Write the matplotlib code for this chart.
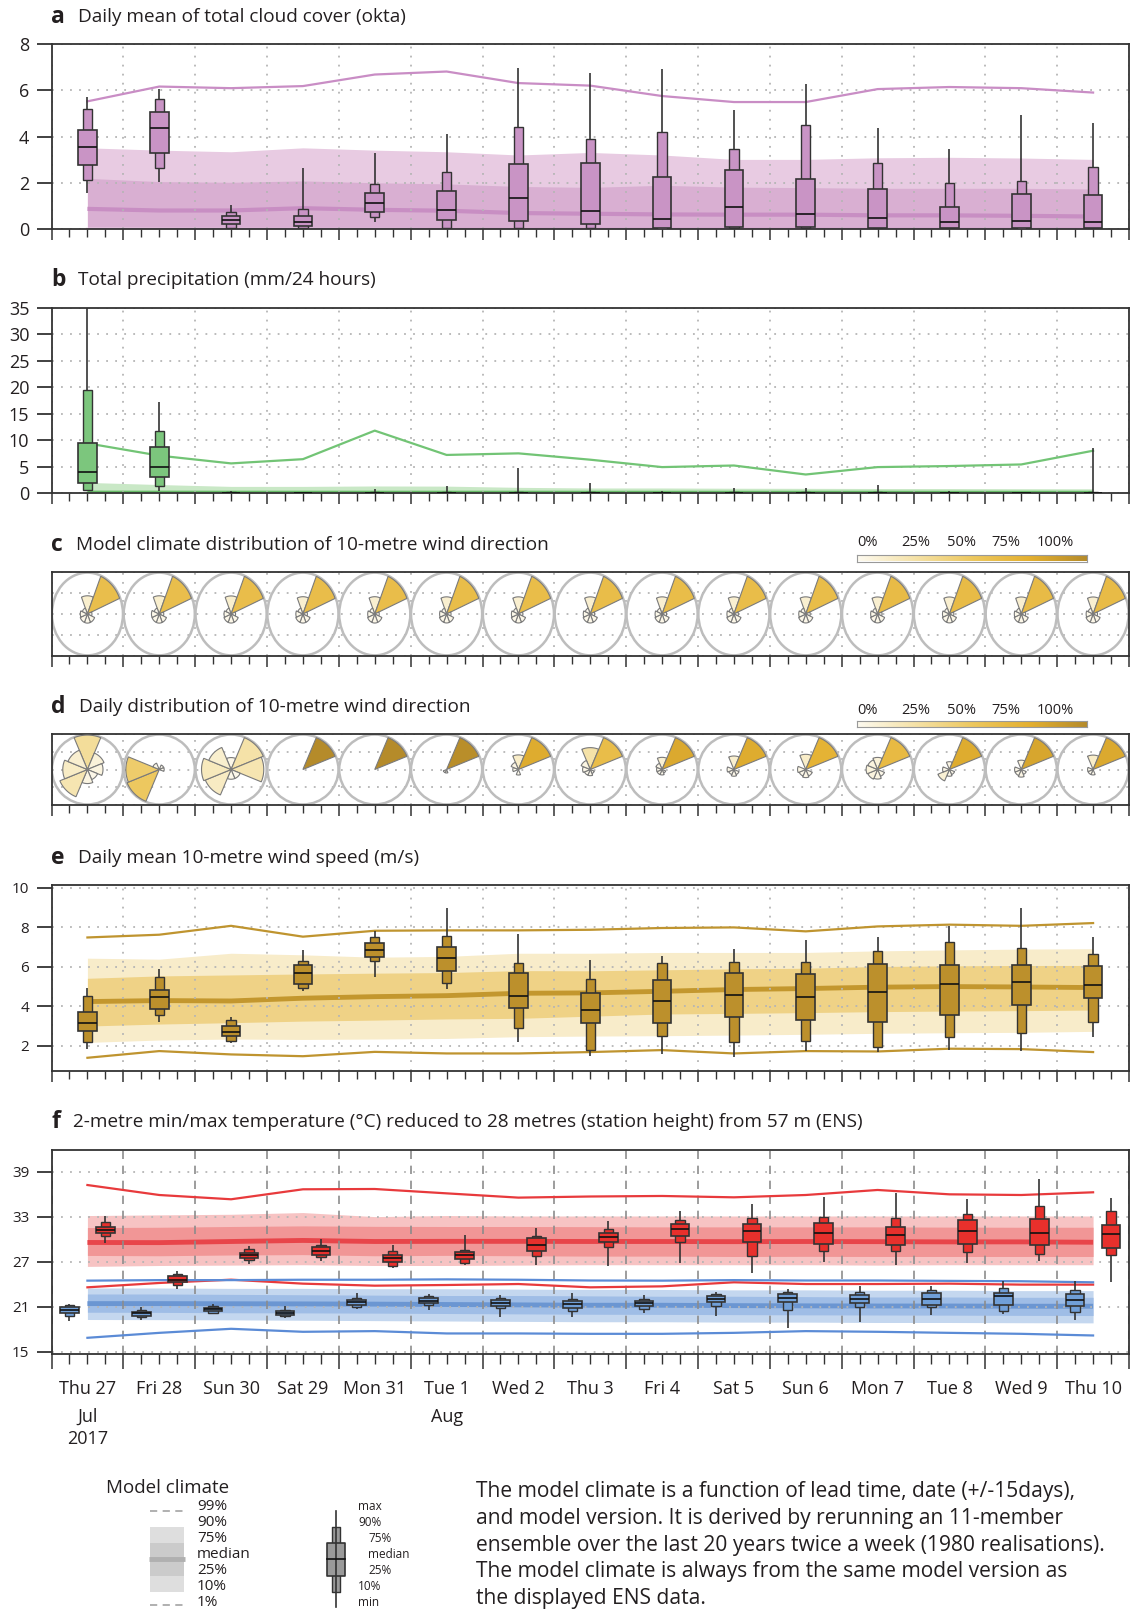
import numpy as np
import matplotlib
matplotlib.use('Agg')
import matplotlib.pyplot as plt
from matplotlib.colors import LinearSegmentedColormap
from matplotlib.patches import Ellipse
import matplotlib.transforms as mtransforms

plt.rcParams['font.family'] = ['Open Sans', 'DejaVu Sans']
plt.rcParams['text.color'] = '#231f20'
plt.rcParams['axes.edgecolor'] = '#333333'
plt.rcParams['xtick.color'] = '#333333'
plt.rcParams['ytick.color'] = '#333333'
plt.rcParams['xtick.labelcolor'] = '#231f20'
plt.rcParams['ytick.labelcolor'] = '#231f20'

# ---------------- data ----------------
days = ['Thu 27', 'Fri 28', 'Sun 30', 'Sat 29', 'Mon 31', 'Tue 1', 'Wed 2', 'Thu 3',
        'Fri 4', 'Sat 5', 'Sun 6', 'Mon 7', 'Tue 8', 'Wed 9', 'Thu 10']
month_labels = ['Jul\n2017', 'Aug']
month_days = [0, 5]

# (a) total cloud cover, ENS distribution
cloud_min = [1.55, 2.05, 0.0, 0.0, 0.29, 0.0, 0.0, 0.0, 0.0, 0.0, 0.0, 0.0, 0.0, 0.0, 0.0]
cloud_p10 = [2.12, 2.62, 0.03, 0.03, 0.52, 0.06, 0.05, 0.03, 0.0, 0.03, 0.03, 0.03, 0.03, 0.0, 0.03]
cloud_p25 = [2.77, 3.30, 0.23, 0.14, 0.72, 0.40, 0.33, 0.23, 0.03, 0.10, 0.10, 0.06, 0.06, 0.03, 0.06]
cloud_med = [3.56, 4.37, 0.37, 0.30, 1.12, 0.83, 1.32, 0.76, 0.43, 0.93, 0.65, 0.47, 0.29, 0.33, 0.30]
cloud_p75 = [4.30, 5.06, 0.55, 0.55, 1.55, 1.66, 2.81, 2.84, 2.27, 2.55, 2.16, 1.73, 0.96, 1.52, 1.48]
cloud_p90 = [5.20, 5.63, 0.73, 0.86, 1.94, 2.48, 4.39, 3.91, 4.20, 3.44, 4.49, 2.87, 2.00, 2.08, 2.67]
cloud_max = [5.71, 6.06, 1.05, 2.62, 3.27, 4.09, 6.95, 6.75, 6.92, 5.16, 6.28, 4.37, 3.44, 4.95, 4.59]
# (a) model climate
cloud_c01 = [0.0, 0.0, 0.0, 0.0, 0.0, 0.0, 0.0, 0.0, 0.0, 0.0, 0.0, 0.0, 0.0, 0.0, 0.0]
cloud_c10 = [0.0, 0.0, 0.0, 0.0, 0.0, 0.0, 0.0, 0.0, 0.0, 0.0, 0.0, 0.0, 0.0, 0.0, 0.0]
cloud_c25 = [0.10, 0.09, 0.08, 0.08, 0.08, 0.07, 0.07, 0.06, 0.06, 0.06, 0.05, 0.05, 0.05, 0.05, 0.05]
cloud_c50 = [0.87, 0.80, 0.80, 0.90, 0.83, 0.79, 0.69, 0.66, 0.63, 0.62, 0.62, 0.59, 0.59, 0.57, 0.54]
cloud_c75 = [2.19, 2.05, 2.02, 2.08, 2.00, 1.95, 1.84, 1.80, 1.89, 1.81, 1.79, 1.76, 1.76, 1.76, 1.73]
cloud_c90 = [3.51, 3.41, 3.34, 3.51, 3.41, 3.34, 3.20, 3.31, 3.20, 3.01, 3.01, 3.08, 3.10, 3.07, 3.01]
cloud_c99 = [5.52, 6.16, 6.09, 6.18, 6.68, 6.81, 6.31, 6.20, 5.75, 5.49, 5.49, 6.05, 6.14, 6.09, 5.90]

# (b) precipitation
prec_min = [0.4, 0.4, 0, 0, 0, 0, 0, 0, 0, 0, 0, 0, 0, 0, 0]
prec_p10 = [0.57, 1.26, 0, 0, 0, 0, 0, 0, 0, 0, 0, 0, 0, 0, 0]
prec_p25 = [1.9, 3.1, 0, 0, 0, 0, 0, 0, 0, 0, 0, 0, 0, 0, 0]
prec_med = [4.04, 5.0, 0, 0, 0, 0, 0, 0, 0, 0, 0, 0, 0, 0, 0]
prec_p75 = [9.54, 8.65, 0.05, 0, 0.05, 0.05, 0, 0, 0, 0, 0, 0, 0, 0, 0]
prec_p90 = [19.4, 11.7, 0.15, 0.05, 0.2, 0.2, 0.1, 0.1, 0.05, 0.1, 0.1, 0.1, 0.05, 0.05, 0.1]
prec_max = [35.0, 17.2, 0.4, 0.1, 0.8, 1.4, 4.8, 1.8, 0.3, 0.9, 1.0, 1.6, 0.4, 0.2, 8.5]
prec_c01 = [0, 0, 0, 0, 0, 0, 0, 0, 0, 0, 0, 0, 0, 0, 0]
prec_c10 = [0, 0, 0, 0, 0, 0, 0, 0, 0, 0, 0, 0, 0, 0, 0]
prec_c25 = [0, 0, 0, 0, 0, 0, 0, 0, 0, 0, 0, 0, 0, 0, 0]
prec_c50 = [0.05, 0.05, 0.04, 0.04, 0.04, 0.04, 0.04, 0.03, 0.03, 0.03, 0.03, 0.03, 0.03, 0.03, 0.03]
prec_c75 = [0.50, 0.45, 0.40, 0.40, 0.42, 0.40, 0.38, 0.36, 0.35, 0.34, 0.33, 0.32, 0.32, 0.31, 0.30]
prec_c90 = [2.0, 1.6, 1.25, 1.25, 1.33, 1.3, 1.07, 0.95, 0.95, 0.9, 0.88, 0.85, 0.85, 0.82, 0.8]
prec_c99 = [9.4, 7.07, 5.6, 6.4, 11.8, 7.2, 7.5, 6.3, 4.9, 5.2, 3.5, 4.9, 5.1, 5.4, 8.0]

# wind direction sectors: N, NE, E, SE, S, SW, W, NW (fractions)
clim_dir = [
    [0.12, 0.60, 0.01, 0.03, 0.03, 0.03, 0.025, 0.015],
    [0.12, 0.60, 0.01, 0.03, 0.03, 0.03, 0.03, 0.015],
    [0.12, 0.61, 0.01, 0.03, 0.03, 0.03, 0.025, 0.015],
    [0.11, 0.61, 0.01, 0.03, 0.03, 0.03, 0.025, 0.015],
    [0.11, 0.61, 0.01, 0.03, 0.03, 0.03, 0.025, 0.015],
    [0.11, 0.62, 0.01, 0.03, 0.03, 0.03, 0.025, 0.015],
    [0.11, 0.62, 0.01, 0.03, 0.03, 0.03, 0.025, 0.015],
    [0.11, 0.62, 0.01, 0.03, 0.03, 0.03, 0.025, 0.015],
    [0.11, 0.62, 0.01, 0.03, 0.03, 0.03, 0.025, 0.015],
    [0.11, 0.62, 0.01, 0.03, 0.03, 0.03, 0.025, 0.015],
    [0.11, 0.62, 0.01, 0.03, 0.03, 0.03, 0.025, 0.015],
    [0.11, 0.63, 0.01, 0.03, 0.03, 0.03, 0.025, 0.015],
    [0.11, 0.63, 0.01, 0.03, 0.03, 0.03, 0.025, 0.015],
    [0.11, 0.63, 0.01, 0.03, 0.03, 0.03, 0.025, 0.015],
    [0.11, 0.63, 0.01, 0.03, 0.03, 0.03, 0.025, 0.015],
]
ens_dir = [
    [0.30, 0.08, 0.06, 0.03, 0.05, 0.22, 0.15, 0.11],
    [0.0, 0.01, 0.01, 0.0, 0.0, 0.50, 0.46, 0.02],
    [0.03, 0.25, 0.22, 0.02, 0.02, 0.16, 0.18, 0.12],
    [0.0, 1.0, 0.0, 0.0, 0.0, 0.0, 0.0, 0.0],
    [0.0, 1.0, 0.0, 0.0, 0.0, 0.0, 0.0, 0.0],
    [0.0, 0.98, 0.0, 0.0, 0.01, 0.01, 0.0, 0.0],
    [0.14, 0.78, 0.0, 0.0, 0.02, 0.0, 0.02, 0.04],
    [0.25, 0.62, 0.0, 0.01, 0.02, 0.02, 0.03, 0.05],
    [0.10, 0.80, 0.0, 0.01, 0.02, 0.02, 0.02, 0.03],
    [0.12, 0.78, 0.0, 0.02, 0.03, 0.02, 0.03, 0.0],
    [0.14, 0.72, 0.0, 0.03, 0.04, 0.03, 0.04, 0.0],
    [0.08, 0.65, 0.0, 0.03, 0.05, 0.06, 0.07, 0.06],
    [0.04, 0.78, 0.0, 0.02, 0.03, 0.10, 0.03, 0.0],
    [0.06, 0.82, 0.0, 0.02, 0.04, 0.03, 0.03, 0.0],
    [0.14, 0.80, 0.0, 0.0, 0.02, 0.02, 0.02, 0.0],
]
pct_labels = ['0%', '25%', '50%', '75%', '100%']

# (e) 10 m wind speed
wind_min = [1.86, 3.22, 2.12, 4.80, 5.51, 4.88, 2.20, 1.47, 1.56, 1.41, 1.73, 1.66, 1.81, 1.75, 2.46]
wind_p10 = [2.20, 3.56, 2.24, 4.95, 6.32, 5.17, 2.88, 1.81, 2.51, 2.19, 2.22, 1.95, 2.42, 2.66, 3.20]
wind_p25 = [2.75, 3.85, 2.49, 5.12, 6.49, 5.80, 3.90, 3.17, 3.17, 3.46, 3.31, 3.22, 3.56, 4.07, 4.41]
wind_med = [3.17, 4.47, 2.71, 5.68, 6.86, 6.44, 4.53, 3.81, 4.29, 4.56, 4.46, 4.71, 5.12, 5.25, 5.08]
wind_p75 = [3.69, 4.83, 3.00, 6.10, 7.20, 7.00, 5.68, 4.66, 5.34, 5.68, 5.63, 6.14, 6.07, 6.10, 6.05]
wind_p90 = [4.54, 5.51, 3.30, 6.30, 7.49, 7.58, 6.19, 5.37, 6.20, 6.25, 6.24, 6.81, 7.24, 6.98, 6.64]
wind_max = [4.95, 5.88, 3.47, 6.86, 7.83, 8.98, 7.66, 6.36, 6.53, 6.90, 7.37, 7.51, 8.08, 8.98, 7.51]
wind_c01 = [1.39, 1.73, 1.56, 1.47, 1.69, 1.61, 1.61, 1.68, 1.78, 1.61, 1.73, 1.71, 1.85, 1.83, 1.68]
wind_c10 = [2.17, 2.29, 2.34, 2.32, 2.34, 2.37, 2.46, 2.49, 2.51, 2.54, 2.58, 2.63, 2.66, 2.68, 2.73]
wind_c25 = [3.00, 3.10, 3.17, 3.25, 3.30, 3.36, 3.39, 3.50, 3.61, 3.64, 3.68, 3.73, 3.76, 3.78, 3.81]
wind_c50 = [4.24, 4.29, 4.27, 4.41, 4.49, 4.54, 4.66, 4.68, 4.76, 4.85, 4.90, 4.97, 5.00, 4.98, 4.95]
wind_c75 = [5.42, 5.54, 5.59, 5.64, 5.68, 5.71, 5.81, 5.80, 5.85, 5.90, 5.93, 6.02, 6.05, 6.07, 6.07]
wind_c90 = [6.44, 6.39, 6.69, 6.61, 6.49, 6.53, 6.69, 6.69, 6.73, 6.73, 6.73, 6.81, 6.86, 6.90, 6.92]
wind_c99 = [7.49, 7.63, 8.08, 7.53, 7.83, 7.85, 7.85, 7.88, 7.97, 8.00, 7.80, 8.05, 8.14, 8.08, 8.22]

# (f) max temperature
tmax_min = [29.48, 23.37, 26.69, 27.05, 26.16, 26.51, 26.60, 26.38, 26.82, 25.50, 26.96, 26.60, 26.82, 27.13, 24.26]
tmax_p10 = [30.37, 23.95, 27.27, 27.62, 26.47, 26.82, 27.80, 28.95, 29.57, 27.71, 28.46, 28.37, 28.29, 28.02, 27.89]
tmax_p25 = [30.90, 24.26, 27.49, 27.93, 26.96, 27.40, 28.37, 29.61, 30.37, 29.66, 29.39, 29.17, 29.35, 29.26, 28.90]
tmax_med = [31.25, 24.60, 27.84, 28.46, 27.44, 27.93, 29.17, 30.32, 31.39, 31.12, 30.90, 30.59, 31.16, 30.81, 30.72]
tmax_p75 = [31.70, 25.05, 28.15, 28.95, 27.84, 28.24, 30.15, 30.81, 32.00, 32.05, 32.14, 31.70, 32.58, 32.71, 31.92]
tmax_p90 = [32.27, 25.36, 28.68, 29.26, 28.46, 28.60, 30.46, 31.34, 32.58, 32.80, 33.02, 32.89, 33.33, 34.44, 33.78]
tmax_max = [33.10, 25.72, 29.04, 30.01, 29.26, 30.59, 31.47, 32.49, 33.78, 34.70, 35.68, 36.12, 35.37, 38.03, 35.46]
# (f) min temperature
tmin_min = [19.16, 19.30, 20.05, 19.47, 20.71, 20.62, 19.65, 19.65, 20.18, 19.74, 18.19, 18.94, 19.96, 20.05, 19.21]
tmin_p10 = [19.74, 19.65, 20.18, 19.74, 20.98, 21.29, 20.80, 20.40, 20.76, 21.07, 20.54, 20.98, 20.93, 20.49, 20.27]
tmin_p25 = [20.18, 19.83, 20.40, 19.96, 21.29, 21.51, 21.07, 20.85, 21.07, 21.60, 21.60, 21.51, 21.29, 21.20, 21.07]
tmin_med = [20.62, 20.14, 20.67, 20.18, 21.64, 21.82, 21.51, 21.42, 21.47, 22.04, 22.13, 22.04, 22.09, 22.40, 21.95]
tmin_p75 = [20.98, 20.36, 20.89, 20.45, 21.95, 22.13, 21.86, 21.82, 21.82, 22.40, 22.71, 22.62, 22.84, 22.84, 22.71]
tmin_p90 = [21.20, 20.62, 21.07, 20.62, 22.17, 22.40, 22.17, 22.04, 22.04, 22.71, 23.02, 22.93, 23.19, 23.50, 23.19]
tmin_max = [21.42, 20.98, 21.42, 21.07, 22.84, 22.70, 22.62, 22.84, 22.62, 22.93, 23.37, 23.81, 23.72, 24.39, 24.39]
# (f) model climate, max temperature
tmax_c01 = [23.59, 24.17, 24.61, 24.08, 23.81, 23.90, 24.03, 23.59, 23.72, 24.26, 24.03, 24.03, 24.08, 23.95, 23.95]
tmax_c10 = [26.38, 26.50, 26.55, 26.60, 26.50, 26.50, 26.55, 26.60, 26.60, 26.60, 26.60, 26.55, 26.60, 26.60, 26.60]
tmax_c25 = [27.84, 27.80, 27.90, 27.95, 27.80, 27.85, 27.80, 27.75, 27.75, 27.70, 27.72, 27.70, 27.70, 27.70, 27.70]
tmax_c50 = [29.57, 29.55, 29.70, 29.84, 29.70, 29.72, 29.72, 29.70, 29.70, 29.68, 29.70, 29.68, 29.65, 29.65, 29.60]
tmax_c75 = [31.56, 31.60, 31.70, 31.78, 31.72, 31.70, 31.70, 31.68, 31.65, 31.65, 31.65, 31.65, 31.62, 31.60, 31.60]
tmax_c90 = [33.16, 33.25, 33.33, 33.56, 33.02, 33.16, 33.10, 33.10, 33.10, 33.10, 33.10, 33.10, 33.10, 33.10, 33.10]
tmax_c99 = [37.23, 35.90, 35.33, 36.66, 36.70, 36.12, 35.55, 35.70, 35.77, 35.59, 35.90, 36.57, 35.99, 35.90, 36.26]
# (f) model climate, min temperature
tmin_c01 = [16.86, 17.52, 18.06, 17.66, 17.75, 17.44, 17.44, 17.39, 17.39, 17.52, 17.75, 17.66, 17.52, 17.39, 17.17]
tmin_c10 = [19.30, 19.28, 19.25, 19.20, 19.15, 19.10, 19.05, 19.00, 19.00, 18.95, 18.95, 18.90, 18.90, 18.87, 18.85]
tmin_c25 = [20.27, 20.25, 20.20, 20.18, 20.15, 20.10, 20.05, 20.00, 19.98, 19.95, 19.92, 19.90, 19.88, 19.85, 19.83]
tmin_c50 = [21.42, 21.42, 21.40, 21.38, 21.35, 21.30, 21.25, 21.20, 21.20, 21.15, 21.12, 21.10, 21.10, 21.07, 21.07]
tmin_c75 = [22.70, 22.70, 22.65, 22.60, 22.55, 22.50, 22.50, 22.45, 22.40, 22.40, 22.35, 22.30, 22.30, 22.26, 22.26]
tmin_c90 = [23.50, 23.50, 23.45, 23.45, 23.40, 23.40, 23.35, 23.30, 23.30, 23.25, 23.25, 23.20, 23.20, 23.15, 23.15]
tmin_c99 = [24.48, 24.55, 24.55, 24.60, 24.60, 24.65, 24.60, 24.50, 24.48, 24.55, 24.50, 24.50, 24.45, 24.40, 24.26]

legend_clim_labels = ['99%', '90%', '75%', 'median', '25%', '10%', '1%']
legend_box_labels = ['max', '90%', '75%', 'median', '25%', '10%', 'min']
paragraph = ['The model climate is a function of lead time, date (+/-15days),',
             'and model version. It is derived by rerunning an 11-member',
             'ensemble over the last 20 years twice a week (1980 realisations).',
             'The model climate is always from the same model version as',
             'the displayed ENS data.']

# ---------------- figure ----------------
W, H = 1132, 1611
fig = plt.figure(figsize=(W / 100, H / 100), dpi=100)
LEFT, RIGHT = 51.5, 1129.0
n = len(days)
centers = np.arange(n) + 0.5


def add_ax(top, bottom):
    return fig.add_axes([LEFT / W, 1 - bottom / H, (RIGHT - LEFT) / W, (bottom - top) / H])


def style_time_axis(ax, ysize=13):
    ax.set_xlim(0, n)
    ax.set_xticks(np.arange(0, n + 1))
    ax.set_xticks(np.arange(0, n + 0.01, 0.25), minor=True)
    ax.tick_params(axis='x', which='major', direction='out', length=8, width=1.1, labelbottom=False)
    ax.tick_params(axis='x', which='minor', direction='out', length=5.5, width=1.0)
    ax.tick_params(axis='y', which='major', direction='out', length=11, width=1.3,
                   labelsize=ysize, pad=5)
    for s in ax.spines.values():
        s.set_linewidth(1.3)
    ax.set_axisbelow('line')


def dotted_grid(ax, xdash=False):
    ax.grid(axis='y', which='major', color='#b5b5b5', linestyle=(0, (1, 4)), linewidth=1.3)
    if xdash:
        ax.grid(axis='x', which='major', color='#8c8c8c', linestyle=(0, (5, 4)), linewidth=1.2)
    else:
        ax.grid(axis='x', which='major', color='#b5b5b5', linestyle=(0, (1, 4)), linewidth=1.3)


def draw_boxes(ax, x, mn, p10, p25, med, p75, p90, mx, color, wn=0.13, ww=0.26):
    x = np.asarray(x, dtype=float)
    ax.vlines(x, mn, mx, color='#333333', lw=1.2, zorder=3)
    ax.bar(x, np.subtract(p90, p10), bottom=p10, width=wn, color=color,
           edgecolor='#333333', linewidth=1.0, zorder=4)
    ax.bar(x, np.subtract(p75, p25), bottom=p25, width=ww, color=color,
           edgecolor='#333333', linewidth=1.2, zorder=5)
    ax.hlines(med, x - ww / 2, x + ww / 2, color='#111111', lw=1.2, zorder=6)


def draw_climate(ax, x, c01, c10, c25, c50, c75, c90, c99, light, mid, medc, linec, medlw=3.0):
    ax.fill_between(x, c10, c90, color=light, lw=0, zorder=1)
    ax.fill_between(x, c25, c75, color=mid, lw=0, zorder=1.1)
    ax.plot(x, c50, color=medc, lw=medlw, zorder=1.2, solid_capstyle='butt')
    ax.plot(x, c99, color=linec, lw=1.6, zorder=2)
    ax.plot(x, c01, color=linec, lw=1.6, zorder=2)


def panel_title(letter, text, y, tx=78):
    fig.text(51 / W, 1 - y / H, letter, fontsize=16.5, fontweight='bold', va='center', ha='left')
    fig.text(tx / W, 1 - y / H, text, fontsize=13.7, va='center', ha='left')


# ---- (a) ----
axa = add_ax(44, 229)
style_time_axis(axa)
dotted_grid(axa)
axa.set_ylim(0, 8)
axa.set_yticks([0, 2, 4, 6, 8])
draw_climate(axa, centers, cloud_c01, cloud_c10, cloud_c25, cloud_c50, cloud_c75, cloud_c90,
             cloud_c99, '#e8cbe2', '#d9afd2', '#c88ec3', '#c98dc5')
draw_boxes(axa, centers, cloud_min, cloud_p10, cloud_p25, cloud_med, cloud_p75, cloud_p90,
           cloud_max, '#c994c5')
panel_title('a', 'Daily mean of total cloud cover (okta)', 17)

# ---- (b) ----
axb = add_ax(308, 493)
style_time_axis(axb)
dotted_grid(axb)
axb.set_ylim(0, 35)
axb.set_yticks(np.arange(0, 36, 5))
draw_climate(axb, centers, prec_c01, prec_c10, prec_c25, prec_c50, prec_c75, prec_c90,
             prec_c99, '#c9e8c6', '#a9d9a6', '#66bb66', '#72c475')
draw_boxes(axb, centers, prec_min, prec_p10, prec_p25, prec_med, prec_p75, prec_p90,
           prec_max, '#7cc67d')
panel_title('b', 'Total precipitation (mm/24 hours)', 280)

# ---- wind roses ----
dir_cmap = LinearSegmentedColormap.from_list(
    'dir', [(0.0, '#fdfaf0'), (0.25, '#f5e2a8'), (0.5, '#edc85f'), (0.75, '#e4b030'), (1.0, '#b58b2a')])


def rose_panel(top, bottom, data):
    ax = add_ax(top, bottom)
    style_time_axis(ax)
    ax.set_ylim(-0.5, 0.5)
    ax.set_yticks([-0.5, -0.25, 0, 0.25, 0.5])
    ax.tick_params(axis='y', length=0, labelleft=False)
    dotted_grid(ax)
    for i, freqs in enumerate(data):
        cx = centers[i]
        ax.add_patch(Ellipse((cx, 0), 0.99, 0.985, facecolor='none', edgecolor='#bdbdbd',
                             lw=1.8, zorder=2))
        fmax = max(freqs)
        for k, f in enumerate(freqs):
            if f <= 0:
                continue
            r = np.sqrt(f / fmax) * 0.485
            th = np.radians(np.linspace(45 * k - 22.5, 45 * k + 22.5, 24))
            xs = np.concatenate([[cx], cx + r * np.sin(th), [cx]])
            ys = np.concatenate([[0], r * np.cos(th), [0]])
            ax.fill(xs, ys, facecolor=dir_cmap(f), edgecolor='#7a7a7a', lw=0.8, zorder=3)
    return ax


def pct_bar(bar_top, label_y):
    cax = fig.add_axes([857 / W, 1 - (bar_top + 6.5) / H, 230 / W, 6.5 / H])
    cax.imshow(np.linspace(0, 1, 256)[None, :], cmap=dir_cmap, aspect='auto',
               extent=(0, 1, 0, 1))
    cax.set_xticks([])
    cax.set_yticks([])
    for s in cax.spines.values():
        s.set_color('#999999')
        s.set_linewidth(0.8)
    for lab, xp in zip(pct_labels, [868, 916, 962, 1006, 1055]):
        fig.text(xp / W, 1 - label_y / H, lab, fontsize=10.5, ha='center', va='center')


axc = rose_panel(572, 656, clim_dir)
panel_title('c', 'Model climate distribution of 10-metre wind direction', 545, tx=76)
pct_bar(555, 543)

axd = rose_panel(734, 805, ens_dir)
panel_title('d', 'Daily distribution of 10-metre wind direction', 707, tx=79)
pct_bar(721, 711)

# ---- (e) ----
axe = add_ax(885, 1071)
style_time_axis(axe, ysize=11)
dotted_grid(axe)
axe.set_ylim(0.72, 10.15)
axe.set_yticks([2, 4, 6, 8, 10])
draw_climate(axe, centers, wind_c01, wind_c10, wind_c25, wind_c50, wind_c75, wind_c90,
             wind_c99, '#f8ecca', '#efd286', '#c3972e', '#bf942f', medlw=3.5)
draw_boxes(axe, centers, wind_min, wind_p10, wind_p25, wind_med, wind_p75, wind_p90,
           wind_max, '#bc902c')
panel_title('e', 'Daily mean 10-metre wind speed (m/s)', 858)

# ---- (f) ----
axf = add_ax(1150, 1354)
style_time_axis(axf, ysize=11)
dotted_grid(axf, xdash=True)
axf.set_ylim(14.7, 41.9)
axf.set_yticks([15, 21, 27, 33, 39])
draw_climate(axf, centers, tmax_c01, tmax_c10, tmax_c25, tmax_c50, tmax_c75, tmax_c90,
             tmax_c99, '#f7c3c3', '#f19696', '#e8454a', '#e83a3c', medlw=3.5)
draw_climate(axf, centers, tmin_c01, tmin_c10, tmin_c25, tmin_c50, tmin_c75, tmin_c90,
             tmin_c99, '#c4d7ef', '#9fbde6', '#6b96d2', '#5b8bd6', medlw=3.5)
draw_boxes(axf, centers - 0.25, tmin_min, tmin_p10, tmin_p25, tmin_med, tmin_p75, tmin_p90,
           tmin_max, '#709fd8')
draw_boxes(axf, centers + 0.25, tmax_min, tmax_p10, tmax_p25, tmax_med, tmax_p75, tmax_p90,
           tmax_max, '#e8302c')
axf.tick_params(axis='x', which='major', length=11)
axf.tick_params(axis='x', which='minor', length=7)
panel_title('f', '2-metre min/max temperature (\u00b0C) reduced to 28 metres (station height) from 57 m (ENS)',
            1122, tx=73)

sec = axf.secondary_xaxis('bottom')
sec.set_xticks(centers, days)
sec.tick_params(axis='x', length=0, pad=19, labelsize=13)
sec.spines['bottom'].set_visible(False)

trans = mtransforms.blended_transform_factory(axf.transData, fig.transFigure)
for lab, d in zip(month_labels, month_days):
    axf.text(centers[d], 1 - 1408 / H, lab, transform=trans, ha='center', va='top',
             fontsize=13, linespacing=1.25)

# ---- legend ----
lax = fig.add_axes([0, 0, 1, 150 / H])
lax.set_xlim(0, W)
lax.set_ylim(H, H - 150)
lax.axis('off')
lax.text(106, 1488, 'Model climate', fontsize=13.5, ha='left', va='center')
lax.fill_between([150, 184], 1527, 1592, color='#dedede', lw=0)
lax.fill_between([150, 184], 1543, 1576, color='#cbcbcb', lw=0)
lax.plot([149, 185], [1559, 1559], color='#b0b0b0', lw=3.5, solid_capstyle='butt')
lax.plot([150, 184], [1511, 1511], color='#aaaaaa', lw=1.3, linestyle=(0, (4, 3)))
lax.plot([150, 184], [1605, 1605], color='#aaaaaa', lw=1.3, linestyle=(0, (4, 3)))
for lab, yy in zip(legend_clim_labels, [1507, 1522, 1538, 1554, 1570, 1586, 1602]):
    lax.text(197, yy, lab, fontsize=11, ha='left', va='center', linespacing=1)

lax.plot([336, 336], [1511, 1607], color='#333333', lw=1.2)
lax.fill_between([332, 340], 1527, 1592, facecolor='#9a9a9a', edgecolor='#333333', lw=1.0)
lax.fill_between([327, 345], 1543, 1576, facecolor='#9a9a9a', edgecolor='#333333', lw=1.2)
lax.plot([327, 345], [1559, 1559], color='#111111', lw=1.2)
for lab, xx, yy in zip(legend_box_labels, [358, 358, 368, 368, 368, 358, 358],
                       [1507, 1522, 1539, 1555, 1571, 1587, 1603]):
    lax.text(xx, yy, lab, fontsize=8.5, ha='left', va='center')

for i, line in enumerate(paragraph):
    lax.text(476, 1492 + i * 26.6, line, fontsize=15.1, ha='left', va='center')

fig.savefig('out.png', dpi=100)
